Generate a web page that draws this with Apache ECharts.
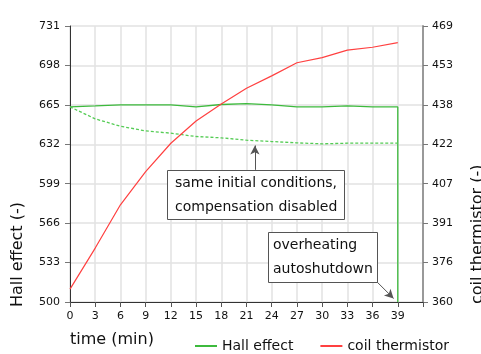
<!DOCTYPE html>
<html><head><meta charset="utf-8">
<script src="https://cdn.jsdelivr.net/npm/echarts@6/dist/echarts.min.js"></script>
<style>html,body{margin:0;padding:0;background:#fff}#c{width:481px;height:354px}</style>
</head><body><div id="c"></div>
<script>
const time = [0,3,6,9,12,15,18,21,24,27,30,33,36,39];
const hallEffect = [663.3,664.1,665,665,665,663.3,665.3,666,665,663.3,663.3,664.1,663.3,663.3];
const hallNoComp = [663.3,653.3,647.1,643.2,641.3,638.5,637.4,635.4,634.3,633.2,632.4,632.9,632.9,632.9];
const coilThermistor = [365.1,381.3,398.4,411.5,422.7,431.5,438.2,444.4,449.3,454.5,456.5,459.5,460.6,462.4];
const shutdownPoint = [39, 500];
const hallTicks = [500,533,566,599,632,665,698,731];
const coilTicks = [360,376,391,407,422,438,453,469];
const timeTicks = [0,3,6,9,12,15,18,21,24,27,30,33,36,39,42];

const FONT = 'DejaVu Sans';
const GREEN = '#3dba3d';
const RED = '#ff4040';
const pair = (xs, ys) => xs.map((x, i) => [x, ys[i]]);
const hallData = pair(time, hallEffect).concat([shutdownPoint]);
const coilStep = (coilTicks[coilTicks.length-1] - coilTicks[0]) / (coilTicks.length - 1);

const chart = echarts.init(document.getElementById('c'), null, {renderer: 'canvas'});
chart.setOption({
  animation: false,
  backgroundColor: '#fff',
  textStyle: {fontFamily: FONT},
  grid: {left: 70, right: 58, top: 26, bottom: 52, containLabel: false},
  xAxis: {
    type: 'value', min: timeTicks[0], max: timeTicks[timeTicks.length-1], interval: 3,
    axisLine: {lineStyle: {color: '#333', width: 1}},
    axisTick: {show: true, length: 5, lineStyle: {color: '#555'}},
    axisLabel: {color: '#111', fontSize: 11, fontFamily: FONT, margin: 9,
      formatter: v => v === timeTicks[timeTicks.length-1] ? '' : String(v)},
    splitLine: {show: true, lineStyle: {color: '#e2e2e2', width: 1.5}}
  },
  yAxis: [{
    type: 'value', min: hallTicks[0], max: hallTicks[hallTicks.length-1], interval: 33,
    axisLine: {show: true, lineStyle: {color: '#333', width: 1}},
    axisTick: {show: true, length: 5, lineStyle: {color: '#777'}},
    axisLabel: {color: '#111', fontSize: 11, fontFamily: FONT, margin: 10},
    splitLine: {show: true, lineStyle: {color: '#e2e2e2', width: 1.5}}
  }, {
    type: 'value', min: coilTicks[0], max: coilTicks[coilTicks.length-1], interval: coilStep,
    position: 'right',
    axisLine: {show: true, lineStyle: {color: '#999', width: 2}},
    axisTick: {show: true, length: 5, lineStyle: {color: '#777'}},
    axisLabel: {color: '#111', fontSize: 11, fontFamily: FONT, margin: 9,
      formatter: v => String(coilTicks[Math.round((v - coilTicks[0]) / coilStep)])},
    splitLine: {show: false}
  }],
  legend: {
    left: 190, top: 334, itemWidth: 22, itemHeight: 2, itemGap: 27, icon: 'rect',
    textStyle: {fontFamily: FONT, fontSize: 14, color: '#111'},
    data: ['Hall effect', 'coil thermistor']
  },
  series: [{
    name: 'Hall effect', type: 'line', yAxisIndex: 0, data: hallData,
    showSymbol: false, symbol: 'none', color: GREEN,
    lineStyle: {color: GREEN, width: 1.3}
  }, {
    name: 'Hall effect (no compensation)', type: 'line', yAxisIndex: 0, data: pair(time, hallNoComp),
    showSymbol: false, symbol: 'none', color: GREEN,
    lineStyle: {color: '#55cc55', width: 1.3, type: [3, 2]},
    markLine: {
      silent: true, symbol: ['none', 'arrow'], symbolSize: [7, 9],
      label: {show: false},
      lineStyle: {color: '#555', type: 'solid', width: 1},
      data: [
        [{coord: [22, 610.6]}, {coord: [22, 631]}],
        [{coord: [36.5, 517]}, {coord: [38.5, 503]}]
      ]
    }
  }, {
    name: 'coil thermistor', type: 'line', yAxisIndex: 1, data: pair(time, coilThermistor),
    showSymbol: false, symbol: 'none', color: RED,
    lineStyle: {color: RED, width: 1.2}
  }],
  graphic: [
    {type: 'text', left: 70, top: 332, style: {text: 'time (min)', font: '16px "DejaVu Sans"', fill: '#111'}},
    {type: 'text', x: 18, y: 307, rotation: Math.PI/2,
      style: {text: 'Hall effect (-)', font: '16px "DejaVu Sans"', fill: '#111', align: 'left', verticalAlign: 'middle'}},
    {type: 'text', x: 478, y: 304, rotation: Math.PI/2,
      style: {text: 'coil thermistor (-)', font: '16px "DejaVu Sans"', fill: '#111', align: 'left', verticalAlign: 'middle'}},
    {type: 'rect', x: 167, y: 170, z: 100, shape: {x: 0.5, y: 0.5, width: 177, height: 49}, style: {fill: '#ffffff', stroke: '#555', lineWidth: 1}},
    {type: 'text', x: 175, y: 183, z: 101, style: {text: 'same initial conditions,', font: '14px "DejaVu Sans"', fill: '#111', verticalAlign: 'middle'}},
    {type: 'text', x: 175, y: 207, z: 101, style: {text: 'compensation disabled', font: '14px "DejaVu Sans"', fill: '#111', verticalAlign: 'middle'}},
    {type: 'rect', x: 268, y: 232, z: 100, shape: {x: 0.5, y: 0.5, width: 109, height: 50}, style: {fill: '#ffffff', stroke: '#555', lineWidth: 1}},
    {type: 'text', x: 273, y: 245, z: 101, style: {text: 'overheating', font: '14px "DejaVu Sans"', fill: '#111', verticalAlign: 'middle'}},
    {type: 'text', x: 273, y: 269, z: 101, style: {text: 'autoshutdown', font: '14px "DejaVu Sans"', fill: '#111', verticalAlign: 'middle'}}
  ]
});
</script>
</body></html>
